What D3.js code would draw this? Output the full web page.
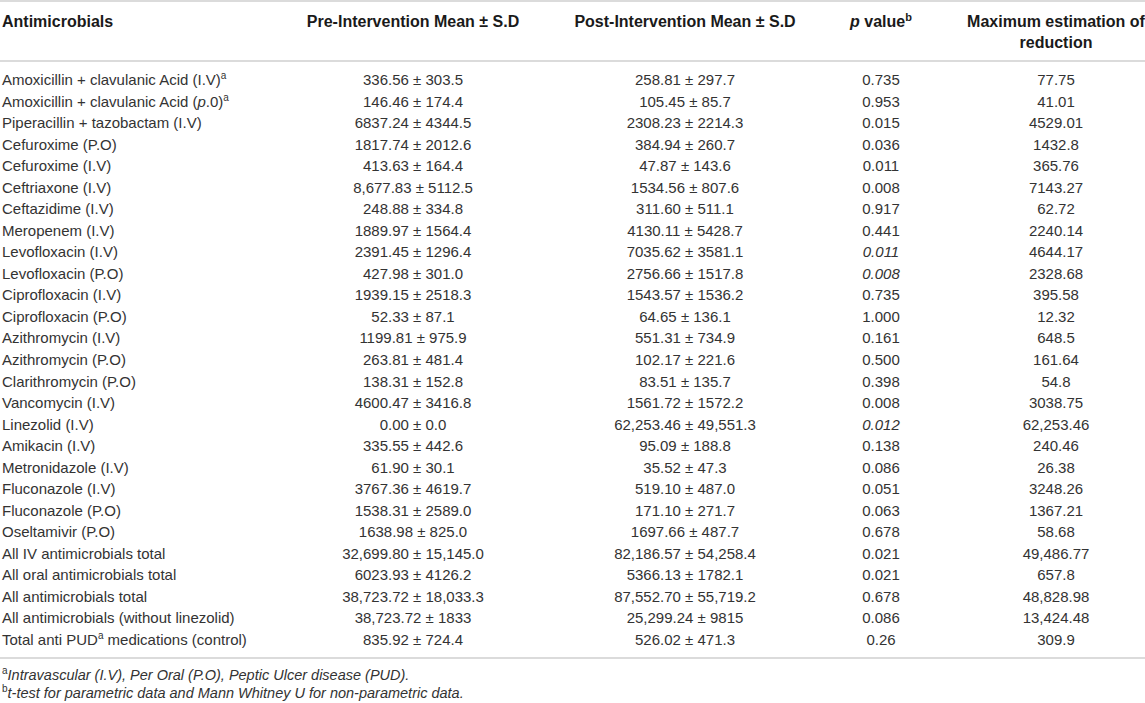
<!DOCTYPE html>
<html>
<head>
<meta charset="utf-8">
<script src="https://cdn.jsdelivr.net/npm/d3@7"></script>
<style>
  body { margin: 0; background: #fff; }
  svg text { font-family: "Liberation Sans", Arial, Helvetica, sans-serif; }
</style>
</head>
<body>
<div id="table"></div>
<script>
// markup in labels: ^x = superscript, *txt* = italic
const names = [
  "Amoxicillin + clavulanic Acid (I.V)^a",
  "Amoxicillin + clavulanic Acid (*p*.0)^a",
  "Piperacillin + tazobactam (I.V)",
  "Cefuroxime (P.O)",
  "Cefuroxime (I.V)",
  "Ceftriaxone (I.V)",
  "Ceftazidime (I.V)",
  "Meropenem (I.V)",
  "Levofloxacin (I.V)",
  "Levofloxacin (P.O)",
  "Ciprofloxacin (I.V)",
  "Ciprofloxacin (P.O)",
  "Azithromycin (I.V)",
  "Azithromycin (P.O)",
  "Clarithromycin (P.O)",
  "Vancomycin (I.V)",
  "Linezolid (I.V)",
  "Amikacin (I.V)",
  "Metronidazole (I.V)",
  "Fluconazole (I.V)",
  "Fluconazole (P.O)",
  "Oseltamivir (P.O)",
  "All IV antimicrobials total",
  "All oral antimicrobials total",
  "All antimicrobials total",
  "All antimicrobials (without linezolid)",
  "Total anti PUD^a medications (control)"
];

const preMean = ["336.56", "146.46", "6837.24", "1817.74", "413.63", "8,677.83", "248.88", "1889.97", "2391.45",
  "427.98", "1939.15", "52.33", "1199.81", "263.81", "138.31", "4600.47", "0.00", "335.55", "61.90", "3767.36",
  "1538.31", "1638.98", "32,699.80", "6023.93", "38,723.72", "38,723.72", "835.92"];
const preSD = ["303.5", "174.4", "4344.5", "2012.6", "164.4", "5112.5", "334.8", "1564.4", "1296.4",
  "301.0", "2518.3", "87.1", "975.9", "481.4", "152.8", "3416.8", "0.0", "442.6", "30.1", "4619.7",
  "2589.0", "825.0", "15,145.0", "4126.2", "18,033.3", "1833", "724.4"];

const postMean = ["258.81", "105.45", "2308.23", "384.94", "47.87", "1534.56", "311.60", "4130.11", "7035.62",
  "2756.66", "1543.57", "64.65", "551.31", "102.17", "83.51", "1561.72", "62,253.46", "95.09", "35.52", "519.10",
  "171.10", "1697.66", "82,186.57", "5366.13", "87,552.70", "25,299.24", "526.02"];
const postSD = ["297.7", "85.7", "2214.3", "260.7", "143.6", "807.6", "511.1", "5428.7", "3581.1",
  "1517.8", "1536.2", "136.1", "734.9", "221.6", "135.7", "1572.2", "49,551.3", "188.8", "47.3", "487.0",
  "271.7", "487.7", "54,258.4", "1782.1", "55,719.2", "9815", "471.3"];

const pValues = ["0.735", "0.953", "0.015", "0.036", "0.011", "0.008", "0.917", "0.441", "*0.011*",
  "*0.008*", "0.735", "1.000", "0.161", "0.500", "0.398", "0.008", "*0.012*", "0.138", "0.086", "0.051",
  "0.063", "0.678", "0.021", "0.021", "0.678", "0.086", "0.26"];

const reductions = ["77.75", "41.01", "4529.01", "1432.8", "365.76", "7143.27", "62.72", "2240.14", "4644.17",
  "2328.68", "395.58", "12.32", "648.5", "161.64", "54.8", "3038.75", "62,253.46", "240.46", "26.38", "3248.26",
  "1367.21", "58.68", "49,486.77", "657.8", "48,828.98", "13,424.48", "309.9"];

const headers = [
  ["Antimicrobials"],
  ["Pre-Intervention Mean ± S.D"],
  ["Post-Intervention Mean ± S.D"],
  ["*p* value^b"],
  ["Maximum estimation of", "reduction"]
];

const footnotes = [
  "^a*Intravascular (I.V), Per Oral (P.O), Peptic Ulcer disease (PUD).*",
  "^b*t-test for parametric data and Mann Whitney U for non-parametric data.*"
];

const WIDTH = 1145, HEIGHT = 703;

// column anchors
const cols = [
  {x: 2, anchor: "start"},
  {x: 413, anchor: "middle"},
  {x: 685, anchor: "middle"},
  {x: 881, anchor: "middle"},
  {x: 1056, anchor: "middle"}
];

const rows = names.map((n, i) => [
  n,
  `${preMean[i]} ± ${preSD[i]}`,
  `${postMean[i]} ± ${postSD[i]}`,
  pValues[i],
  reductions[i]
]);

const y = d3.scaleLinear().domain([0, rows.length - 1]).range([85, 645]);

const svg = d3.select("#table")
  .append("svg")
    .attr("width", WIDTH)
    .attr("height", HEIGHT);

// split a label into plain / italic / superscript pieces
function pieces(str) {
  return str.split(/(\^[a-z]|\*[^*]+\*)/).filter(s => s.length).map(s => {
    if (s[0] === "^") return {t: s.slice(1), sup: true};
    if (s[0] === "*") return {t: s.slice(1, -1), it: true};
    return {t: s};
  });
}

function richText(sel, str, supSize) {
  let raised = false;
  pieces(str).forEach(p => {
    const ts = sel.append("tspan").text(p.t);
    if (p.it) ts.style("font-style", "italic");
    if (p.sup) {
      ts.attr("font-size", supSize).attr("dy", -6);
      raised = true;
    } else if (raised) {
      ts.attr("dy", 6);
      raised = false;
    }
  });
}

// rules
const rules = [1, 61, 658];
svg.selectAll(".rule").data(rules)
  .enter()
  .append("line")
    .classed("rule", true)
    .attr("x1", 0)
    .attr("x2", WIDTH)
    .attr("y1", d => d)
    .attr("y2", d => d)
    .attr("stroke", "#cfcfcf")
    .attr("stroke-width", 1.6);

// header
headers.forEach((lines, c) => {
  lines.forEach((line, k) => {
    const t = svg.append("text")
      .attr("x", cols[c].x)
      .attr("y", 27 + k * 21)
      .attr("text-anchor", cols[c].anchor)
      .attr("font-size", 16)
      .attr("font-weight", "bold")
      .attr("fill", "#1a1a1a");
    richText(t, line, 11);
  });
});

// body
const rowG = svg.selectAll(".row").data(rows)
  .enter()
  .append("g")
    .classed("row", true)
    .attr("transform", (d, i) => `translate(0,${y(i)})`);

rowG.each(function(d) {
  const g = d3.select(this);
  d.forEach((cell, c) => {
    const t = g.append("text")
      .attr("x", cols[c].x)
      .attr("text-anchor", cols[c].anchor)
      .attr("font-size", 15)
      .attr("fill", "#333");
    richText(t, cell, 10);
  });
});

// footnotes
footnotes.forEach((f, i) => {
  const t = svg.append("text")
    .attr("x", 2)
    .attr("y", 680 + i * 18)
    .attr("font-size", 14.5)
    .attr("fill", "#333");
  richText(t, f, 10);
});
</script>
</body>
</html>
